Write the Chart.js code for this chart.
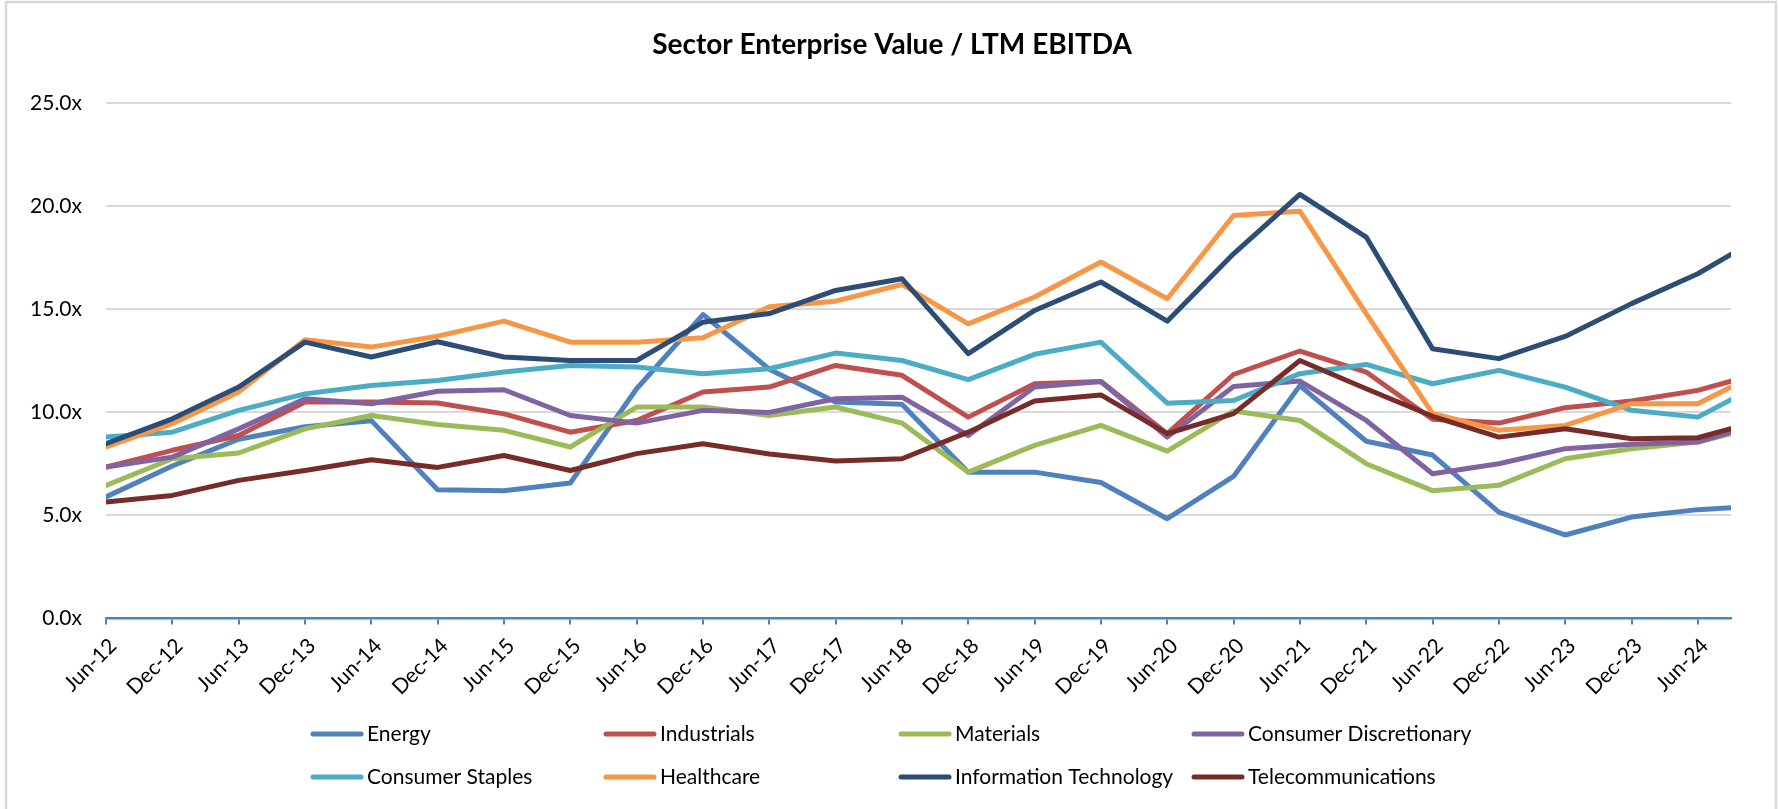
<!DOCTYPE html>
<html>
<head>
<meta charset="utf-8">
<title>Sector Enterprise Value / LTM EBITDA</title>
<script src="https://cdn.jsdelivr.net/npm/chart.js@4"></script>
<style>
  html, body { margin: 0; padding: 0; background: #fff; }
</style>
</head>
<body>
<canvas id="evChart" width="1779" height="809"></canvas>
<script>
const chartTitle = 'Sector Enterprise Value / LTM EBITDA';

// x axis tick labels, one every six months
const tickLabels = ['Jun-12', 'Dec-12', 'Jun-13', 'Dec-13', 'Jun-14', 'Dec-14', 'Jun-15', 'Dec-15',
  'Jun-16', 'Dec-16', 'Jun-17', 'Dec-17', 'Jun-18', 'Dec-18', 'Jun-19', 'Dec-19', 'Jun-20', 'Dec-20',
  'Jun-21', 'Dec-21', 'Jun-22', 'Dec-22', 'Jun-23', 'Dec-23', 'Jun-24'];

// where each observation sits, in months after Jun-12 (last one is a part period)
const monthOffsets = [0, 6, 12, 18, 24, 30, 36, 42, 48, 54, 60, 66, 72, 78, 84, 90, 96, 102,
  108, 114, 120, 126, 132, 138, 144, 147];

const sectorNames = ['Energy', 'Industrials', 'Materials', 'Consumer Discretionary',
  'Consumer Staples', 'Healthcare', 'Information Technology', 'Telecommunications'];
const sectorColors = ['#4F81BD', '#C0504D', '#9BBB59', '#8064A2',
  '#4BACC6', '#F79646', '#2C4D75', '#772C2A'];

// EV / LTM EBITDA multiples
const energy = [5.9, 7.4, 8.7, 9.3, 9.6, 6.25, 6.2, 6.57, 11.15, 14.75, 12.1, 10.5, 10.4,
  7.1, 7.1, 6.6, 4.84, 6.89, 11.3, 8.6, 7.93, 5.16, 4.05, 4.92, 5.28, 5.37];
const industrials = [7.35, 8.16, 8.88, 10.5, 10.5, 10.46, 9.93, 9.04, 9.61, 10.99, 11.23, 12.28, 11.8,
  9.77, 11.39, 11.5, 8.97, 11.84, 12.98, 11.96, 9.67, 9.48, 10.23, 10.55, 11.07, 11.52];
const materials = [6.46, 7.75, 8.03, 9.2, 9.85, 9.41, 9.13, 8.32, 10.26, 10.26, 9.85, 10.26, 9.48,
  7.1, 8.4, 9.37, 8.12, 10.07, 9.61, 7.51, 6.2, 6.46, 7.75, 8.24, 8.56, 8.97];
const consumerDiscretionary = [7.35, 7.83, 9.2, 10.66, 10.42, 11.03, 11.1, 9.85, 9.48, 10.1, 10.0, 10.66, 10.74,
  8.88, 11.23, 11.5, 8.8, 11.26, 11.52, 9.61, 7.02, 7.51, 8.24, 8.45, 8.56, 9.04];
const consumerStaples = [8.8, 9.04, 10.1, 10.9, 11.31, 11.55, 11.96, 12.28, 12.2, 11.88, 12.12, 12.88, 12.52,
  11.59, 12.82, 13.41, 10.45, 10.58, 11.88, 12.33, 11.39, 12.04, 11.23, 10.1, 9.77, 10.62];
const healthcare = [8.32, 9.45, 10.99, 13.53, 13.17, 13.7, 14.43, 13.41, 13.41, 13.62, 15.13, 15.4, 16.21,
  14.3, 15.6, 17.3, 15.52, 19.56, 19.77, 14.79, 9.95, 9.13, 9.37, 10.42, 10.42, 11.23];
const infoTech = [8.48, 9.69, 11.23, 13.41, 12.69, 13.43, 12.69, 12.52, 12.52, 14.38, 14.8, 15.92, 16.49,
  12.85, 14.95, 16.33, 14.43, 17.7, 20.58, 18.51, 13.09, 12.61, 13.69, 15.28, 16.73, 17.67];
const telecom = [5.65, 5.97, 6.7, 7.18, 7.7, 7.33, 7.91, 7.18, 8.0, 8.48, 7.98, 7.64, 7.75,
  9.04, 10.55, 10.85, 8.97, 9.94, 12.52, 11.15, 9.81, 8.8, 9.21, 8.72, 8.77, 9.21];

const seriesValues = [energy, industrials, materials, consumerDiscretionary,
  consumerStaples, healthcare, infoTech, telecom];

const datasets = sectorNames.map((name, i) => ({
  label: name,
  data: seriesValues[i].map((v, j) => ({ x: monthOffsets[j], y: v })),
  borderColor: sectorColors[i],
  backgroundColor: sectorColors[i],
  borderWidth: 5,
  borderJoinStyle: 'round',
  borderCapStyle: 'round',
  pointRadius: 0,
  tension: 0,
  order: sectorNames.length - i   // later series on top, like Excel
}));

const FONT = 'Lato, "Liberation Sans", sans-serif';

// light grey outer frame of the chart
const chartFrame = {
  id: 'chartFrame',
  beforeDraw(chart) {
    const ctx = chart.ctx;
    ctx.save();
    ctx.fillStyle = '#fff';
    ctx.fillRect(0, 0, chart.width, chart.height);
    ctx.strokeStyle = '#d9d9d9';
    ctx.lineWidth = 2.5;
    ctx.strokeRect(6, 2, chart.width - 9, chart.height + 20);
    ctx.restore();
  }
};

// title and a 4-column legend grid
const titleAndLegend = {
  id: 'titleAndLegend',
  afterDraw(chart) {
    const ctx = chart.ctx;
    ctx.save();
    ctx.fillStyle = '#000';
    ctx.textBaseline = 'middle';
    ctx.textAlign = 'center';
    ctx.font = 'bold 28px ' + FONT;
    ctx.fillText(chartTitle, 892, 45);

    const colX = [310, 603, 898, 1191];
    const rowY = [734, 777];
    ctx.font = '21px ' + FONT;
    ctx.textAlign = 'left';
    chart.data.datasets.forEach((ds, i) => {
      const x = colX[i % 4];
      const y = rowY[Math.floor(i / 4)];
      ctx.strokeStyle = ds.borderColor;
      ctx.lineWidth = 5;
      ctx.lineCap = 'round';
      ctx.beginPath();
      ctx.moveTo(x + 3, y);
      ctx.lineTo(x + 51, y);
      ctx.stroke();
      ctx.fillText(ds.label, x + 57, y);
    });
    ctx.restore();
  }
};

new Chart(document.getElementById('evChart'), {
  type: 'line',
  data: { datasets },
  plugins: [chartFrame, titleAndLegend],
  options: {
    responsive: false,
    animation: false,
    layout: { padding: { left: 0, right: 48, top: 103.4, bottom: 100 } },
    plugins: {
      legend: { display: false },
      title: { display: false },
      tooltip: { enabled: false }
    },
    scales: {
      x: {
        type: 'linear',
        min: 0,
        max: 147,
        afterFit: s => { s.height = 90.6; },
        grid: {
          drawOnChartArea: false,
          drawTicks: true,
          tickLength: 6,
          color: '#4F81BD',
          lineWidth: 2
        },
        border: { display: true, color: '#4F81BD', width: 2.5 },
        ticks: {
          stepSize: 6,
          includeBounds: false,
          autoSkip: false,
          minRotation: 45,
          maxRotation: 45,
          padding: 9,
          labelOffset: 7,
          color: '#000',
          font: { family: FONT, size: 21 },
          callback: v => tickLabels[v / 6]
        }
      },
      y: {
        min: 0,
        max: 25,
        afterFit: s => { s.width = 106; },
        grid: {
          drawTicks: false,
          color: c => (c.tick.value === 0 ? 'rgba(0,0,0,0)' : '#d9d9d9'),
          lineWidth: 2
        },
        border: { display: false },
        ticks: {
          stepSize: 5,
          padding: 24,
          color: '#000',
          font: { family: FONT, size: 21 },
          callback: v => v.toFixed(1) + 'x'
        }
      }
    }
  }
});
</script>
</body>
</html>
